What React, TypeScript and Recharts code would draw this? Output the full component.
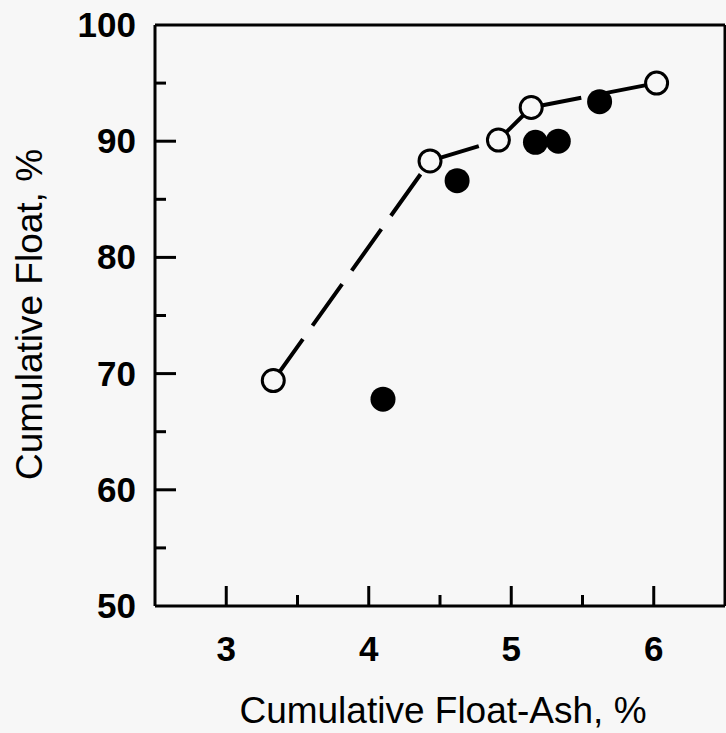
import { ScatterChart, Scatter, XAxis, YAxis, Label } from 'recharts';

// open circles (dashed curve) and filled circles
const openAsh = [3.33, 4.43, 4.91, 5.14, 6.02];
const openFloat = [69.4, 88.3, 90.1, 92.9, 95.0];
const filledAsh = [4.1, 4.62, 5.17, 5.33, 5.62];
const filledFloat = [67.8, 86.6, 89.9, 90.0, 93.4];

const xTicks = [3, 3.5, 4, 4.5, 5, 5.5, 6];
const yTicks = [50, 55, 60, 65, 70, 75, 80, 85, 90, 95, 100];
const xLabels = [3, 4, 5, 6];
const yLabels = [50, 60, 70, 80, 90, 100];

const BG = '#f7f7f7';
const FONT = '"Liberation Sans", Arial, Helvetica, sans-serif';

const openData = openAsh.map((x, i) => ({ x, y: openFloat[i] }));
const filledData = filledAsh.map((x, i) => ({ x, y: filledFloat[i] }));
// the dash pattern restarts on every segment, so draw them one by one
const segments = openData.slice(1).map((p, i) => [openData[i], p]);

function BottomTick(props: any) {
  const { x, y, payload } = props;
  const v = payload.value;
  const major = Number.isInteger(v);
  return (
    <g>
      <line x1={x} y1={y} x2={x} y2={y - (major ? 20 : 11)} stroke="#000" strokeWidth={3} />
      {xLabels.includes(v) && (
        <text x={x} y={y + 55} textAnchor="middle" fontSize={35} fontWeight="bold" fontFamily={FONT} fill="#000">
          {v}
        </text>
      )}
    </g>
  );
}

function TopTick(props: any) {
  const { x, y, payload } = props;
  const major = Number.isInteger(payload.value);
  return <line x1={x} y1={y} x2={x} y2={y + (major ? 21 : 12)} stroke="#000" strokeWidth={3} />;
}

function LeftTick(props: any) {
  const { x, y, payload } = props;
  const v = payload.value;
  const major = v % 10 === 0;
  return (
    <g>
      {v > 50 && v < 100 && (
        <line x1={x} y1={y} x2={x + (major ? 21 : 11)} y2={y} stroke="#000" strokeWidth={3} />
      )}
      {yLabels.includes(v) && (
        <text x={x - 19} y={y + 12} textAnchor="end" fontSize={35} fontWeight="bold" fontFamily={FONT} fill="#000">
          {v}
        </text>
      )}
    </g>
  );
}

function RightTick(props: any) {
  const { x, y, payload } = props;
  const v = payload.value;
  if (v <= 50 || v >= 100) return <g />;
  const major = v % 10 === 0;
  return <line x1={x} y1={y} x2={x - (major ? 21 : 11)} y2={y} stroke="#000" strokeWidth={3} />;
}

const OpenDot = (props: any) => (
  <circle cx={props.cx} cy={props.cy} r={11} fill={BG} stroke="#000" strokeWidth={3} />
);
const FilledDot = (props: any) => <circle cx={props.cx} cy={props.cy} r={12.5} fill="#000" />;
const NoDot = () => <g />;

export default function App() {
  const frame = { stroke: '#000', strokeWidth: 3 };
  return (
    <div style={{ position: 'absolute', left: 0, top: 0, width: 726, height: 733, background: BG }}>
      <ScatterChart width={726} height={733} margin={{ top: 24, right: 0, bottom: 126, left: 154 }}>
        <XAxis
          type="number"
          dataKey="x"
          domain={[2.5, 6.5]}
          ticks={xTicks}
          interval={0}
          height={1}
          tickSize={0}
          tickMargin={0}
          tickLine={false}
          axisLine={frame}
          tick={<BottomTick />}
        >
          <Label
            content={({ viewBox }: any) => (
              <text
                x={viewBox.x + viewBox.width / 2 + 3}
                y={viewBox.y + 117}
                textAnchor="middle"
                fontSize={37}
                fontFamily={FONT}
                fill="#000"
              >
                Cumulative Float-Ash, %
              </text>
            )}
          />
        </XAxis>
        <XAxis
          xAxisId="top"
          orientation="top"
          type="number"
          domain={[2.5, 6.5]}
          ticks={xTicks}
          interval={0}
          height={1}
          tickSize={0}
          tickMargin={0}
          tickLine={false}
          axisLine={frame}
          tick={<TopTick />}
        />
        <YAxis
          type="number"
          dataKey="y"
          domain={[50, 100]}
          ticks={yTicks}
          interval={0}
          width={1}
          tickSize={0}
          tickMargin={0}
          tickLine={false}
          axisLine={frame}
          tick={<LeftTick />}
        >
          <Label
            content={({ viewBox }: any) => {
              const cx = 42;
              const cy = viewBox.y + viewBox.height / 2 - 1;
              return (
                <text
                  x={cx}
                  y={cy}
                  transform={`rotate(-90, ${cx}, ${cy})`}
                  textAnchor="middle"
                  fontSize={37}
                  fontFamily={FONT}
                  fill="#000"
                >
                  Cumulative Float, %
                </text>
              );
            }}
          />
        </YAxis>
        <YAxis
          yAxisId="right"
          orientation="right"
          type="number"
          domain={[50, 100]}
          ticks={yTicks}
          interval={0}
          width={1}
          tickSize={0}
          tickMargin={0}
          tickLine={false}
          axisLine={frame}
          tick={<RightTick />}
        />
        {segments.map((seg, i) => (
          <Scatter
            key={`seg-${i}`}
            data={seg}
            fill="#000"
            line={{ stroke: '#000', strokeWidth: 4, strokeDasharray: '51 16.5' }}
            lineType="joint"
            shape={NoDot}
            isAnimationActive={false}
          />
        ))}
        <Scatter data={filledData} fill="#000" shape={FilledDot} isAnimationActive={false} />
        <Scatter data={openData} fill="#000" shape={OpenDot} isAnimationActive={false} />
      </ScatterChart>
    </div>
  );
}
